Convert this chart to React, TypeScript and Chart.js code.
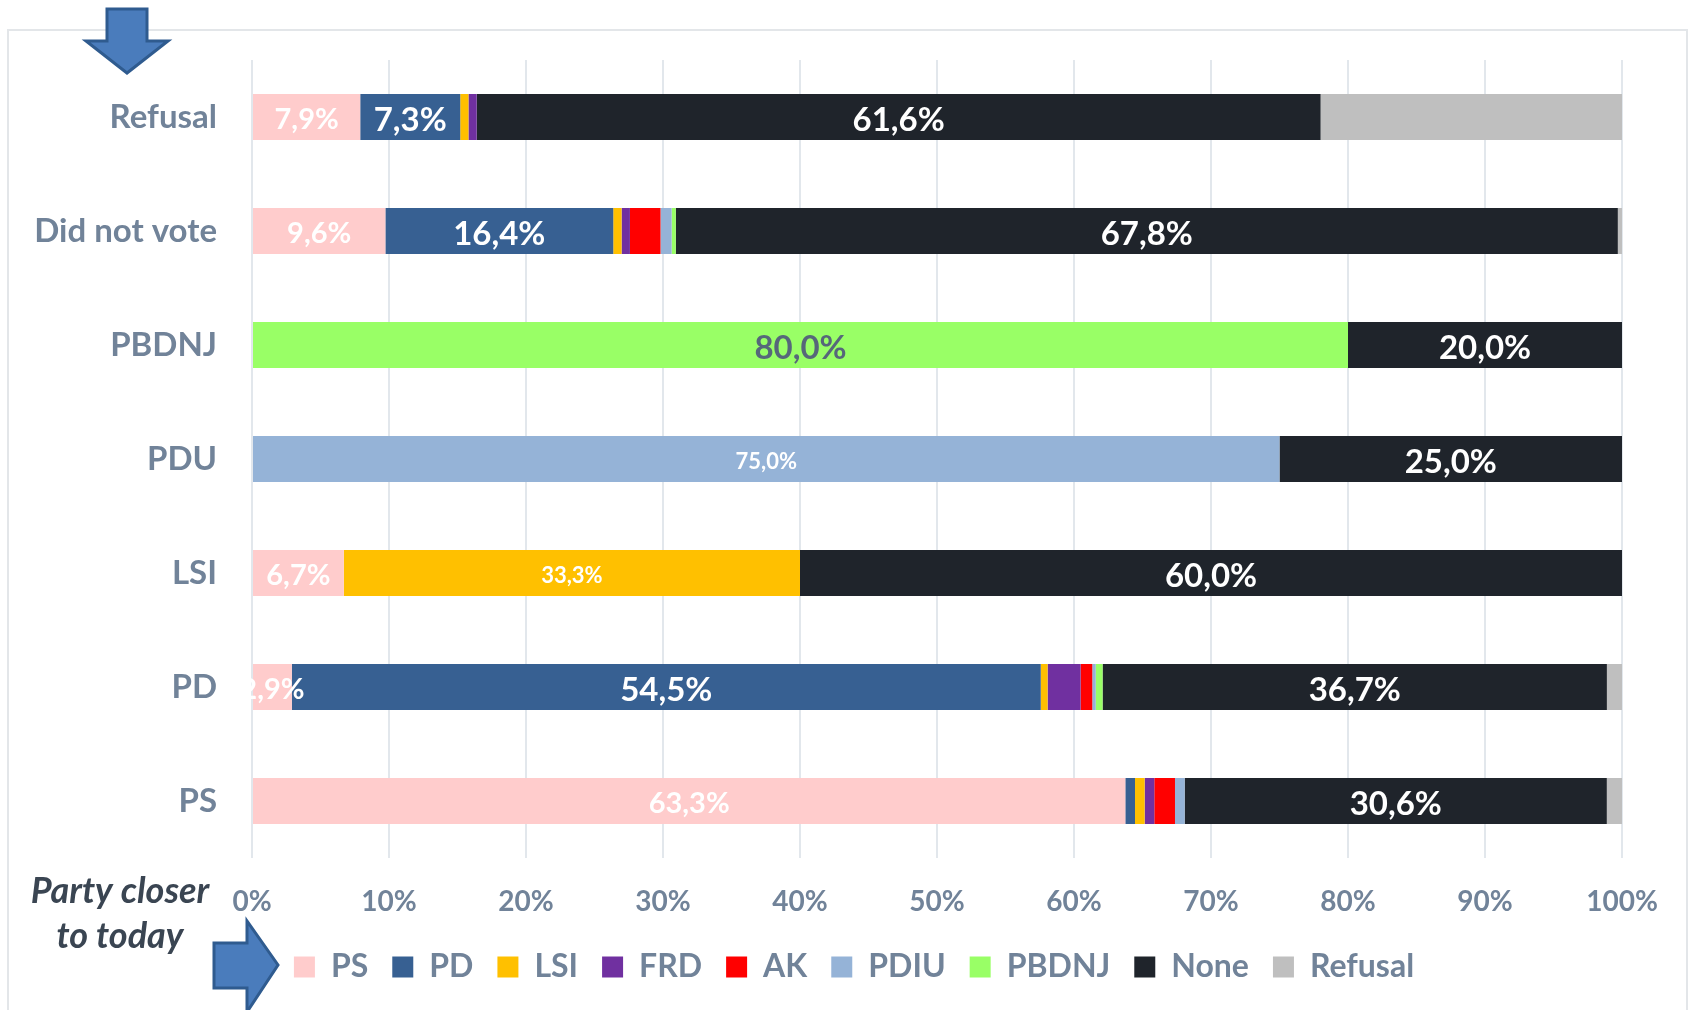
import React, { useEffect, useRef } from "react";
import { Chart, registerables } from "chart.js";

Chart.register(...registerables);

const categories = ["Refusal", "Did not vote", "PBDNJ", "PDU", "LSI", "PD", "PS"];
const PS = [7.9, 9.6, 0, 0, 6.7, 2.9, 63.3];
const PD = [7.3, 16.4, 0, 0, 0, 54.5, 0.7];
const LSI = [0.6, 0.6, 0, 0, 33.3, 0.5, 0.7];
const FRD = [0.6, 0.6, 0, 0, 0, 2.4, 0.7];
const AK = [0, 2.2, 0, 0, 0, 0.85, 1.5];
const PDIU = [0, 0.8, 0, 75, 0, 0.25, 0.7];
const PBDNJ = [0, 0.3, 80, 0, 0, 0.5, 0];
const None = [61.6, 67.8, 20, 25, 60, 36.7, 30.6];
const Refusal = [22, 0.3, 0, 0, 0, 1.1, 1.1];

const seriesNames = ["PS", "PD", "LSI", "FRD", "AK", "PDIU", "PBDNJ", "None", "Refusal"];
const seriesValues = [PS, PD, LSI, FRD, AK, PDIU, PBDNJ, None, Refusal];
const seriesColors = ["#FFCCCC", "#376092", "#FFC000", "#7030A0", "#FF0000", "#95B3D7", "#99FF66", "#1F242B", "#BFBFBF"];

const FONT = "Lato";
const TEXT = "#718399";

// 100% stacked: each row is scaled by its own total
const rowTotals = categories.map((_, i) => seriesValues.reduce((s, v) => s + v[i], 0));

function labelStyle(name: string, value: number) {
  if (name === "Refusal" || value < 2.5 || name === "AK" || name === "FRD") return null;
  if (name === "PDIU" || name === "LSI") return { size: 22, color: "#FFFFFF" };
  if (name === "PS") return { size: 29, color: "#FFFFFF" };
  if (name === "PBDNJ") return { size: 33, color: "#56677A" };
  return { size: 33, color: "#FFFFFF" };
}

function arrow(ctx: CanvasRenderingContext2D, pts: number[][]) {
  ctx.beginPath();
  pts.forEach((p, i) => (i ? ctx.lineTo(p[0], p[1]) : ctx.moveTo(p[0], p[1])));
  ctx.closePath();
  ctx.fillStyle = "#4A7CBC";
  ctx.fill();
  ctx.strokeStyle = "#2F5B8F";
  ctx.lineWidth = 3;
  ctx.lineJoin = "miter";
  ctx.stroke();
}

const framePlugin = {
  id: "frame",
  afterLayout(chart: any) {
    const lg = chart.legend;
    const dx = 854 - (lg.left + lg.right) / 2;
    lg.left += dx;
    lg.right += dx;
    const h = lg.bottom - lg.top;
    lg.top = 927;
    lg.bottom = 927 + h;
  },
  beforeDraw(chart: any) {
    const ctx = chart.ctx;
    ctx.save();
    ctx.strokeStyle = "#E3E6E9";
    ctx.lineWidth = 2;
    ctx.strokeRect(8, 30, 1679, 1100);
    ctx.restore();
  },
  afterDraw(chart: any) {
    const ctx = chart.ctx;
    ctx.save();
    arrow(ctx, [[107, 9], [147, 9], [147, 41], [168, 41], [127, 73], [86, 41], [107, 41]]);
    arrow(ctx, [[214, 943], [247, 943], [247, 921], [278, 965], [247, 1012], [247, 988], [214, 988]]);
    ctx.fillStyle = "#3A4552";
    ctx.font = `italic bold 36px ${FONT}`;
    ctx.textAlign = "center";
    ctx.textBaseline = "middle";
    ctx.fillText("Party closer", 120, 891);
    ctx.fillText("to today", 120, 936);
    ctx.restore();
  },
};

const labelPlugin = {
  id: "segmentLabels",
  afterDatasetsDraw(chart: any) {
    const ctx = chart.ctx;
    ctx.save();
    ctx.textAlign = "center";
    ctx.textBaseline = "middle";
    seriesValues.forEach((vals, d) => {
      const meta = chart.getDatasetMeta(d);
      vals.forEach((v, i) => {
        const st = labelStyle(seriesNames[d], v);
        if (!st) return;
        const el = meta.data[i];
        const cx = (el.x + el.base) / 2;
        ctx.font = `bold ${st.size}px ${FONT}`;
        ctx.fillStyle = st.color;
        ctx.fillText(v.toFixed(1).replace(".", ",") + "%", cx, el.y + 3);
      });
    });
    ctx.restore();
  },
};

export default function App() {
  const ref = useRef<HTMLCanvasElement>(null);
  useEffect(() => {
    const chart = new Chart(ref.current!, {
      type: "bar",
      data: {
        labels: categories,
        datasets: seriesNames.map((name, d) => ({
          label: name,
          data: seriesValues[d].map((v, i) => (v / rowTotals[i]) * 100),
          backgroundColor: seriesColors[d],
          borderWidth: 0,
          categoryPercentage: 1,
          barPercentage: 0.4035,
        })),
      },
      options: {
        indexAxis: "y",
        responsive: false,
        animation: false,
        layout: { padding: { left: 18, right: 68, top: 60, bottom: 0 } },
        plugins: {
          tooltip: { enabled: false },
          title: { display: false },
          legend: {
            display: true,
            position: "bottom",
            labels: {
              boxWidth: 21,
              boxHeight: 21,
              padding: 24,
              color: TEXT,
              font: { family: FONT, weight: "bold", size: 32 },
            },
          },
        },
        scales: {
          x: {
            stacked: true,
            min: 0,
            max: 100,
            border: { display: false },
            grid: { color: "#E2E7EC", lineWidth: 2, drawTicks: false },
            ticks: {
              stepSize: 10,
              padding: 27,
              maxRotation: 0,
              color: TEXT,
              font: { family: FONT, weight: "bold", size: 28 },
              callback: (v: any) => `${v}%`,
            },
            afterFit(scale: any) {
              scale.height = 86;
            },
          },
          y: {
            stacked: true,
            border: { display: false },
            grid: { display: false, drawTicks: false },
            ticks: {
              padding: 35,
              color: TEXT,
              font: { family: FONT, weight: "bold", size: 33 },
            },
            afterFit(scale: any) {
              scale.width = 234;
            },
          },
        },
      },
      plugins: [framePlugin, labelPlugin],
    } as any);
    return () => chart.destroy();
  }, []);
  return (
    <div style={{ position: "absolute", left: 0, top: 0, width: 1690, height: 1010, overflow: "hidden", background: "#fff" }}>
      <canvas ref={ref} width={1690} height={1010} style={{ display: "block" }} />
    </div>
  );
}
